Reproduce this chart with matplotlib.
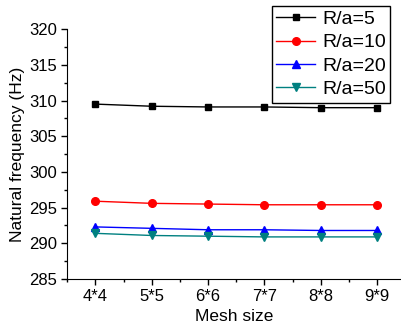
import matplotlib
matplotlib.use("Agg")
import matplotlib.pyplot as plt
from matplotlib.ticker import MultipleLocator

mesh = ["4*4", "5*5", "6*6", "7*7", "8*8", "9*9"]
ra5 = [309.5, 309.2, 309.1, 309.1, 309.0, 309.0]
ra10 = [295.9, 295.6, 295.5, 295.4, 295.4, 295.4]
ra20 = [292.3, 292.1, 291.9, 291.9, 291.8, 291.8]
ra50 = [291.4, 291.1, 291.0, 290.9, 290.9, 290.9]

plt.rcParams['font.family'] = ['Liberation Sans', 'DejaVu Sans']

fig = plt.figure(figsize=(4.02, 3.31), dpi=100)
ax = fig.add_axes([0.167, 0.157, 0.833, 0.755])

x = list(range(len(mesh)))
ax.plot(x, ra5, color='black', marker='s', ms=5, lw=1, label='R/a=5')
ax.plot(x, ra10, color='red', marker='o', ms=5.5, lw=1, label='R/a=10')
ax.plot(x, ra20, color='blue', marker='^', ms=6, lw=1, label='R/a=20')
ax.plot(x, ra50, color='#008080', marker='v', ms=6, lw=1, label='R/a=50')

ax.set_xlim(-0.5, 5.44)
ax.set_ylim(285, 320)
ax.set_xticks(x)
ax.set_xticklabels(mesh)
ax.xaxis.set_minor_locator(MultipleLocator(0.5))
ax.yaxis.set_major_locator(MultipleLocator(5))
ax.yaxis.set_minor_locator(MultipleLocator(2.5))
ax.tick_params(which='major', direction='out', length=4, width=1, labelsize=12, pad=3)
ax.tick_params(which='minor', direction='out', length=2.5, width=1)
ax.spines['top'].set_visible(False)
ax.spines['right'].set_visible(False)

ax.set_xlabel("Mesh size", fontsize=12.5, labelpad=4)
ax.set_ylabel("Natural frequency (Hz)", fontsize=12.5, labelpad=3)

leg = ax.legend(loc='upper right', bbox_to_anchor=(390 / 402, 1 - 6 / 331),
                bbox_transform=fig.transFigure, fontsize=14, handlelength=2.0,
                handletextpad=0.35, labelspacing=0.3, borderpad=0.22,
                borderaxespad=0, fancybox=False, framealpha=1)
leg.get_frame().set_edgecolor('black')
leg.get_frame().set_linewidth(1)

fig.savefig("out.png", dpi=100)
